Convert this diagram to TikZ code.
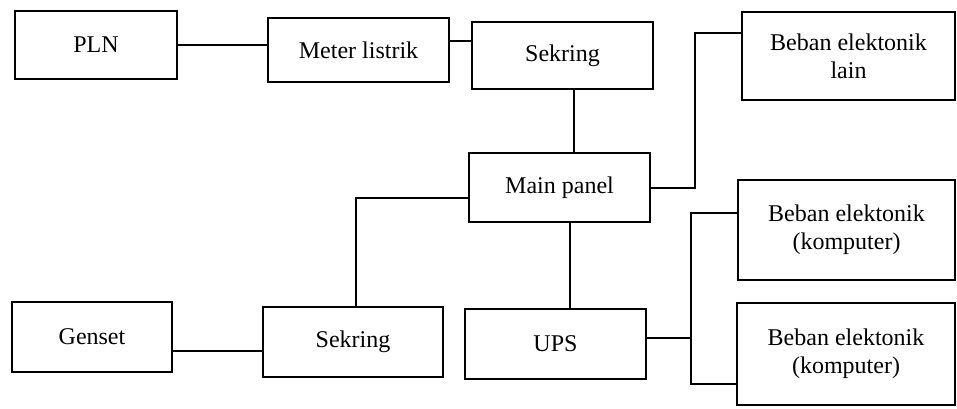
\documentclass[tikz,border=0pt]{standalone}
\usepackage{fontspec}
\setmainfont{Liberation Serif}
\begin{document}
\begin{tikzpicture}[x=0.5pt,y=-0.5pt,
  box/.style={draw, line width=0.8pt, rectangle, inner sep=0pt, align=center,
    font=\fontsize{12}{14}\selectfont},
  wire/.style={line width=0.8pt}]
\useasboundingbox (0,0) rectangle (957,408);
\node[box, minimum width=81pt, minimum height=34pt] (pln) at (96,45) {PLN};
\node[box, minimum width=90.5pt, minimum height=32pt] (meter) at (358.5,50) {Meter listrik};
\node[box, minimum width=90.5pt, minimum height=33.5pt] (sek1) at (562.5,55.5) {Sekring};
\node[box, minimum width=106.5pt, minimum height=44pt] (lain) at (848.5,56) {Beban elektonik\\lain};
\node[box, minimum width=90.5pt, minimum height=34.5pt] (main) at (559.5,187.5) {Main panel};
\node[box, minimum width=108.5pt, minimum height=50pt] (k1) at (846.5,230) {Beban elektonik\\(komputer)};
\node[box, minimum width=109pt, minimum height=51pt] (k2) at (846,354) {Beban elektonik\\(komputer)};
\node[box, minimum width=90.5pt, minimum height=35pt] (ups) at (555.5,344) {UPS};
\node[box, minimum width=80pt, minimum height=35pt] (genset) at (92,337) {Genset};
\node[box, minimum width=90pt, minimum height=35pt] (sek2) at (353,342) {Sekring};

\draw[wire] (pln.east |- {(0,45)}) -- (meter.west |- {(0,45)});
\draw[wire] (meter.east |- {(0,41)}) -- (sek1.west |- {(0,41)});
\draw[wire] (sek1.south -| {(574,0)}) -- (main.north -| {(574,0)});
\draw[wire] (lain.west |- {(0,33)}) -- (695,33) -- (695,188) -- (main.east |- {(0,188)});
\draw[wire] (main.west |- {(0,198)}) -| (sek2.north -| {(356,0)});
\draw[wire] (main.south -| {(570,0)}) -- (ups.north -| {(570,0)});
\draw[wire] (ups.east |- {(0,338)}) -- (691,338);
\draw[wire] (k1.west |- {(0,213)}) -- (691,213) -- (691,384) -- (k2.west |- {(0,384)});
\draw[wire] (genset.east |- {(0,351)}) -- (sek2.west |- {(0,351)});
\end{tikzpicture}
\end{document}
